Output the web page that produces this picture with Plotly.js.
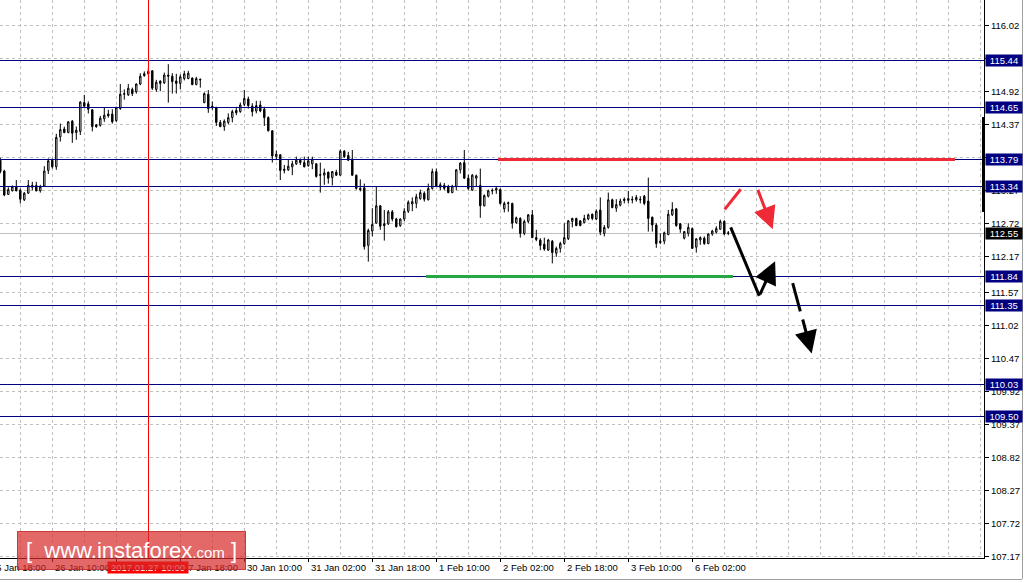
<!DOCTYPE html>
<html><head><meta charset="utf-8">
<script src="https://cdn.plot.ly/plotly-3.0.1.min.js"></script>
<style>html,body{margin:0;padding:0;background:#fff;overflow:hidden}#chart{width:1026px;height:583px}
.shapelayer path{shape-rendering:crispEdges}
.shapelayer path[data-index="12"],.shapelayer path[data-index="13"],.shapelayer path[data-index="14"]{shape-rendering:auto}</style>
</head><body><div id="chart"></div>
<script>
// USDJPY H1 candles (bar 0 = 25 Jan 2017 ~21:00, last = 6 Feb 2017 11:00)
const openP = [113.77,113.59,113.20,113.26,113.33,113.27,113.11,113.22,113.35,113.35,113.26,113.34,113.60,113.77,113.66,114.16,114.29,114.23,114.42,114.23,114.25,114.73,114.71,114.61,114.36,114.35,114.46,114.54,114.54,114.43,114.63,114.88,114.86,114.95,114.91,115.04,115.21,115.21,115.26,114.95,115.09,115.06,115.19,115.17,115.09,115.05,115.13,115.13,115.14,115.03,115.12,114.73,114.87,114.67,114.65,114.40,114.33,114.40,114.48,114.60,114.58,114.70,114.79,114.67,114.59,114.69,114.62,114.48,114.26,113.83,113.86,113.62,113.61,113.66,113.71,113.77,113.73,113.68,113.71,113.71,113.53,113.52,113.57,113.48,113.57,113.52,113.92,113.85,113.79,113.52,113.30,113.31,112.35,112.59,112.72,113.01,112.71,112.71,112.91,112.79,112.68,112.79,112.92,113.04,113.05,113.13,113.22,113.11,113.30,113.58,113.36,113.35,113.33,113.23,113.33,113.61,113.73,113.47,113.27,113.47,113.35,113.01,113.17,113.27,113.27,113.28,112.96,113.06,113.05,112.73,112.80,112.55,112.75,112.86,112.48,112.44,112.37,112.27,112.42,112.22,112.30,112.38,112.46,112.75,112.80,112.76,112.73,112.79,112.87,112.79,112.94,112.55,112.65,113.11,112.97,113.02,113.12,113.10,113.12,113.11,113.12,113.17,113.09,112.82,112.69,112.42,112.42,112.53,112.86,112.96,112.71,112.47,112.55,112.63,112.32,112.44,112.47,112.38,112.54,112.57,112.62,112.75,112.56];
const highP = [113.81,113.61,113.32,113.35,113.44,113.30,113.24,113.44,113.41,113.41,113.36,113.67,113.80,113.80,114.21,114.38,114.33,114.42,114.44,114.33,114.75,114.86,114.75,114.62,114.37,114.51,114.65,114.61,114.62,114.66,115.04,114.95,115.04,114.98,115.05,115.22,115.25,115.30,115.27,115.11,115.10,115.23,115.37,115.22,115.21,115.20,115.26,115.26,115.15,115.16,115.13,114.90,114.94,114.75,114.66,114.44,114.45,114.55,114.61,114.66,114.73,114.94,114.83,114.72,114.76,114.76,114.66,114.50,114.27,113.93,113.87,113.69,113.78,113.76,113.83,113.80,113.83,113.83,113.83,113.72,113.73,113.63,113.58,113.59,113.61,113.95,113.94,113.91,113.94,113.53,113.45,113.38,112.63,112.97,113.33,113.02,112.94,112.94,112.94,112.81,112.80,112.97,113.10,113.15,113.21,113.28,113.25,113.38,113.63,113.63,113.40,113.39,113.36,113.36,113.62,113.74,113.94,113.53,113.54,113.53,113.63,113.20,113.28,113.30,113.33,113.30,113.08,113.08,113.06,112.83,112.82,112.78,112.87,112.94,112.61,112.47,112.48,112.46,112.44,112.33,112.41,112.72,112.77,112.81,112.81,112.77,112.86,112.88,112.88,112.95,113.15,112.69,113.23,113.13,113.12,113.13,113.15,113.26,113.17,113.19,113.17,113.19,113.48,112.83,112.72,112.55,112.58,112.94,113.07,112.97,112.72,112.59,112.72,112.65,112.47,112.50,112.50,112.55,112.61,112.67,112.78,112.77,112.59];
const lowP = [113.55,113.17,113.19,113.25,113.25,113.05,113.09,113.21,113.27,113.25,113.23,113.33,113.54,113.63,113.61,114.08,114.22,114.22,114.06,114.11,114.19,114.66,114.55,114.25,114.31,114.33,114.41,114.48,114.38,114.41,114.61,114.78,114.84,114.84,114.88,115.02,115.16,115.19,114.94,114.91,114.92,115.04,114.73,114.88,114.88,114.95,115.10,115.12,115.02,115.02,114.98,114.72,114.56,114.61,114.34,114.32,114.26,114.37,114.40,114.52,114.56,114.67,114.63,114.50,114.55,114.57,114.34,114.25,113.73,113.77,113.44,113.55,113.59,113.52,113.69,113.69,113.65,113.66,113.62,113.48,113.23,113.36,113.38,113.35,113.51,113.51,113.81,113.76,113.51,113.28,113.25,112.28,112.08,112.50,112.71,112.61,112.43,112.69,112.75,112.65,112.66,112.75,112.89,112.92,112.97,113.11,113.08,113.10,113.28,113.33,113.27,113.27,113.22,113.22,113.27,113.55,113.46,113.27,113.26,113.33,112.81,113.00,113.15,113.20,113.21,113.03,112.90,112.91,112.63,112.71,112.48,112.52,112.72,112.47,112.42,112.27,112.26,112.26,112.05,112.16,112.23,112.36,112.44,112.65,112.67,112.67,112.72,112.77,112.77,112.77,112.52,112.50,112.63,112.97,112.91,113.00,113.05,113.05,113.05,113.08,113.05,113.02,112.58,112.58,112.31,112.37,112.37,112.52,112.84,112.66,112.56,112.45,112.50,112.29,112.23,112.36,112.36,112.37,112.51,112.55,112.61,112.52,112.52];
const closeP = [113.58,113.19,113.28,113.33,113.26,113.12,113.22,113.35,113.32,113.26,113.33,113.59,113.76,113.66,114.15,114.28,114.23,114.41,114.22,114.27,114.74,114.67,114.62,114.33,114.33,114.47,114.52,114.51,114.41,114.65,114.87,114.87,114.97,114.88,115.04,115.17,115.18,115.25,114.97,115.07,115.05,115.19,115.17,115.08,115.05,115.16,115.21,115.22,115.03,115.13,115.11,114.88,114.63,114.65,114.40,114.33,114.42,114.48,114.58,114.56,114.69,114.80,114.68,114.58,114.68,114.59,114.48,114.26,113.84,113.87,113.60,113.60,113.67,113.71,113.77,113.73,113.66,113.76,113.79,113.50,113.52,113.56,113.47,113.58,113.52,113.92,113.83,113.77,113.52,113.30,113.28,112.33,112.60,112.70,113.01,112.67,112.68,112.91,112.79,112.66,112.79,112.92,113.07,113.08,113.16,113.23,113.12,113.30,113.58,113.34,113.32,113.30,113.23,113.34,113.61,113.72,113.47,113.30,113.52,113.51,113.01,113.18,113.26,113.26,113.30,113.05,113.05,113.05,112.72,112.81,112.55,112.75,112.86,112.48,112.45,112.35,112.29,112.44,112.23,112.30,112.38,112.48,112.76,112.80,112.68,112.68,112.80,112.86,112.80,112.92,112.57,112.65,113.11,112.98,113.03,113.09,113.10,113.13,113.11,113.15,113.11,113.05,112.80,112.69,112.38,112.40,112.56,112.87,112.95,112.68,112.62,112.58,112.65,112.30,112.46,112.48,112.38,112.54,112.59,112.63,112.75,112.54,112.55];

// price axis
const yTicks = [116.02,115.47,114.92,114.37,113.82,113.27,112.72,112.17,111.57,111.02,110.47,109.92,109.37,108.82,108.27,107.72,107.17];
const levelValues = [115.44,114.65,113.79,113.34,111.84,111.35,110.03,109.50];
const lastPrice = 112.55;

// time axis labels (bar index of each label)
const xTickIdx = [-3,13,29,45,61,77,93,109,125,141,157,173];
const xTickText = ['25 Jan 18:00','26 Jan 10:00','27 Jan 02:00','27 Jan 18:00','30 Jan 10:00','31 Jan 02:00','31 Jan 18:00','1 Feb 10:00','2 Feb 02:00','2 Feb 18:00','3 Feb 10:00','6 Feb 02:00'];
const cursorIdx = 37, cursorLabel = '2017.01.27 10:00';

// analyst drawings (bar index, price)
const resistance = {x0:124.4, x1:238.7, y:113.79};
const support = {x0:106.4, x1:183.2, y:111.835};

const FONT = "'Liberation Sans',Arial,sans-serif";
const FS = 9.5;
const X0 = -0.075, X1 = 245.925, Y0 = 107.14, Y1 = 116.44;
const xs = openP.map((_, i) => i);
const px = i => (i - X0) / (X1 - X0);

const NAVY = '#000080', GRID = '#c0c0c0', RED = '#ee2a36', GREEN = '#23a843';

const shapes = [];
shapes.push({type:'line', xref:'paper', x0:0, x1:1, yref:'y', y0:lastPrice, y1:lastPrice, line:{color:GRID, width:1}, layer:'below'});
levelValues.forEach(v => shapes.push({type:'line', xref:'paper', x0:0, x1:1, yref:'y', y0:v, y1:v, line:{color:NAVY, width:1}}));
shapes.push({type:'line', xref:'x', x0:cursorIdx, x1:cursorIdx, yref:'paper', y0:0, y1:1, line:{color:'#ff0000', width:1}});
shapes.push({type:'line', xref:'x', x0:resistance.x0, x1:resistance.x1, yref:'y', y0:resistance.y, y1:resistance.y, line:{color:RED, width:3}});
shapes.push({type:'line', xref:'x', x0:support.x0, x1:support.x1, yref:'y', y0:support.y, y1:support.y, line:{color:GREEN, width:3}});
shapes.push({type:'line', xref:'x', x0:181.1, x1:185.1, yref:'y', y0:112.95, y1:113.285, line:{color:RED, width:3}});
shapes.push({type:'line', xref:'x', x0:182.6, x1:189.75, yref:'y', y0:112.65, y1:111.51, line:{color:'#000', width:3}});
shapes.push({type:'line', xref:'x', x0:198.1, x1:200.0, yref:'y', y0:111.72, y1:111.25, line:{color:'#000', width:3}});
// right-edge black bar
shapes.push({type:'rect', xref:'paper', x0:982/984, x1:985/984, yref:'y', y0:112.91, y1:114.49, fillcolor:'#000', line:{width:0}});
// window borders
shapes.push({type:'line', xref:'paper', x0:1022/984, x1:1022/984, yref:'paper', y0:-21/558, y1:1, line:{color:'#a0a0a0', width:1}});
shapes.push({type:'line', xref:'paper', x0:0, x1:1022/984, yref:'paper', y0:-21/558, y1:-21/558, line:{color:'#a0a0a0', width:1}});

const annotations = [];
xTickIdx.forEach((idx, k) => annotations.push({xref:'paper', x:px(idx), xanchor:'left', xshift:1, yref:'paper', y:0, yanchor:'top', yshift:-2, text:xTickText[k], showarrow:false, font:{family:FONT, size:FS, color:'#000'}}));
annotations.push({xref:'x', x:cursorIdx, xanchor:'center', yref:'paper', y:0, yanchor:'top', yshift:-3, text:cursorLabel, showarrow:false, bgcolor:'#ff0000', width:80, height:11, borderpad:0, font:{family:FONT, size:FS, color:'#fff'}});
levelValues.forEach(v => annotations.push({xref:'paper', x:1, xanchor:'left', xshift:1, yref:'y', y:v, yanchor:'middle', text:v.toFixed(2), showarrow:false, bgcolor:NAVY, width:36, height:11, borderpad:0, font:{family:FONT, size:FS, color:'#fff'}}));
annotations.push({xref:'paper', x:1, xanchor:'left', xshift:1, yref:'y', y:lastPrice, yanchor:'middle', text:lastPrice.toFixed(2), showarrow:false, bgcolor:'#000', width:36, height:11, borderpad:0, font:{family:FONT, size:FS, color:'#fff'}});
// arrows
annotations.push({xref:'x', yref:'y', x:193.1, y:112.62, axref:'x', ayref:'y', ax:189.25, ay:113.30, text:'', showarrow:true, arrowhead:2, arrowsize:1.5, arrowwidth:3, arrowcolor:RED, standoff:0});
annotations.push({xref:'x', yref:'y', x:193.7, y:112.085, axref:'x', ayref:'y', ax:189.75, ay:111.51, text:'', showarrow:true, arrowhead:2, arrowsize:1.5, arrowwidth:3, arrowcolor:'#000', standoff:0});
annotations.push({xref:'x', yref:'y', x:202.85, y:110.55, axref:'x', ayref:'y', ax:200.5, ay:111.14, text:'', showarrow:true, arrowhead:2, arrowsize:1.5, arrowwidth:3, arrowcolor:'#000', standoff:0});
// watermark
annotations.push({xref:'paper', x:17/984, xanchor:'left', yref:'paper', y:27/558, yanchor:'top', width:227, height:37, text:'[  www.instaforex<span style="font-size:15px">.com</span> ]', showarrow:false, bgcolor:'rgba(215,40,40,0.7)', bordercolor:'rgba(190,30,30,0.8)', borderwidth:1, borderpad:0, font:{family:FONT, size:22, color:'#fff'}});

const trace = {type:'candlestick', x:xs, open:openP, high:highP, low:lowP, close:closeP,
  increasing:{line:{color:'#000', width:1}, fillcolor:'#fff'},
  decreasing:{line:{color:'#000', width:1}, fillcolor:'#000'},
  whiskerwidth:0, hoverinfo:'skip'};

const layout = {
  width:1026, height:583, margin:{l:0, r:42, t:0, b:25, pad:0},
  paper_bgcolor:'#fff', plot_bgcolor:'#fff', showlegend:false, boxgap:0.5,
  xaxis:{range:[X0, X1], showticklabels:false, tickmode:'array', tickvals:xTickIdx, ticks:'outside', ticklen:3, tickcolor:'#000',
    showline:true, linecolor:'#000', linewidth:1, showgrid:true, gridcolor:GRID, griddash:'3px,3px', zeroline:false,
    rangeslider:{visible:false}, fixedrange:true,
    minor:{tick0:5, dtick:8, showgrid:true, gridcolor:GRID, griddash:'3px,3px', ticks:''}},
  yaxis:{range:[Y0, Y1], side:'right', tickmode:'array', tickvals:yTicks, ticktext:yTicks.map(v => v.toFixed(2)),
    ticks:'outside', ticklen:4, tickcolor:'#000', showline:true, linecolor:'#000', linewidth:1,
    showgrid:true, gridcolor:GRID, griddash:'3px,3px', zeroline:false, fixedrange:true,
    tickfont:{family:FONT, size:FS, color:'#000'}},
  shapes:shapes, annotations:annotations
};
Plotly.newPlot('chart', [trace], layout, {staticPlot:true, displayModeBar:false});
</script></body></html>
